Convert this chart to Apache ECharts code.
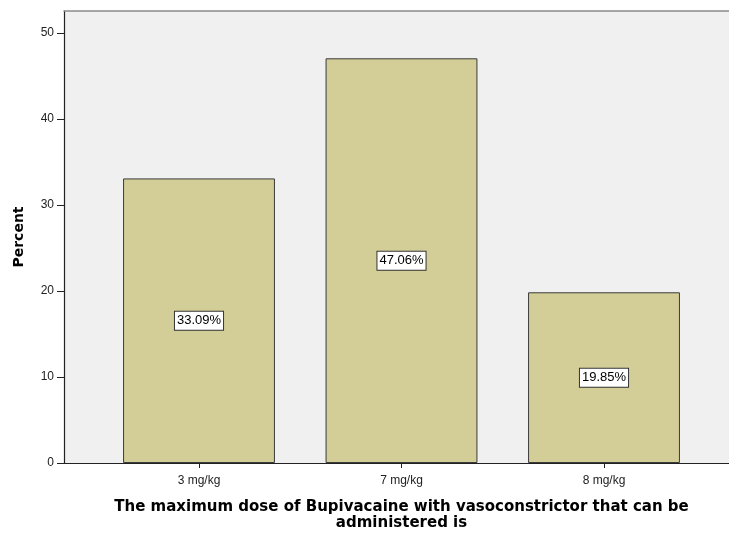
<!DOCTYPE html>
<html>
<head>
<meta charset="utf-8">
<style>
  html, body { margin: 0; padding: 0; background: #ffffff; }
  #chart { width: 729px; height: 534px; }
</style>
<script src="https://cdn.jsdelivr.net/npm/echarts@6/dist/echarts.min.js"></script>
</head>
<body>
<div id="chart"></div>
<script>
// Answer categories and the share of respondents choosing each one
const categories = ['3 mg/kg', '7 mg/kg', '8 mg/kg'];
const percents = [33.09, 47.06, 19.85];
const yTicks = [0, 10, 20, 30, 40, 50];

const yMax = 52.56;
const FONT = 'Arial, "Liberation Sans", sans-serif';
const TITLE_FONT = '"DejaVu Sans", Arial, sans-serif';

const chart = echarts.init(document.getElementById('chart'), null, { renderer: 'canvas' });

chart.setOption({
  animation: false,
  backgroundColor: '#ffffff',
  grid: [
    // frame with the grey plotting background and the percent axis
    { left: 64, right: 0, top: 11, bottom: 71, show: true, backgroundColor: '#F0F0F0', borderWidth: 0, outerBoundsMode: 'none', containLabel: false },
    // bar area
    { left: 97.75, right: 23.75, top: 11, bottom: 71, outerBoundsMode: 'none', containLabel: false }
  ],
  xAxis: [
    {
      gridIndex: 0, type: 'value', min: 0, max: 1, position: 'bottom',
      axisLine: { show: true, lineStyle: { color: '#222', width: 1.2 } },
      axisTick: { show: false }, axisLabel: { show: false }, splitLine: { show: false }
    },
    {
      gridIndex: 0, type: 'value', min: 0, max: 1, position: 'top',
      axisLine: { show: true, lineStyle: { color: '#8a8a8a', width: 1.5 } },
      axisTick: { show: false }, axisLabel: { show: false }, splitLine: { show: false }
    },
    {
      gridIndex: 1, type: 'category', data: categories,
      axisLine: { show: false },
      axisTick: { show: true, alignWithLabel: true, length: 5, lineStyle: { color: '#222' } },
      axisLabel: { color: '#222', fontFamily: FONT, fontSize: 12, margin: 12 },
      name: 'The maximum dose of Bupivacaine with vasoconstrictor that can be\nadministered is',
      nameLocation: 'middle',
      nameGap: 36,
      nameTextStyle: { color: '#000', fontFamily: TITLE_FONT, fontSize: 15, fontWeight: 'bold', lineHeight: 16 }
    }
  ],
  yAxis: [
    {
      gridIndex: 0, type: 'value', min: 0, max: yMax, interval: 10,
      axisLine: { show: true, lineStyle: { color: '#222', width: 1.2 } },
      axisTick: { show: true, length: 7, customValues: yTicks, lineStyle: { color: '#222' } },
      axisLabel: { customValues: yTicks, color: '#222', fontFamily: FONT, fontSize: 12, margin: 10 },
      splitLine: { show: false },
      name: 'Percent', nameLocation: 'middle', nameGap: 38,
      nameTextStyle: { color: '#000', fontFamily: TITLE_FONT, fontSize: 14, fontWeight: 'bold' }
    },
    {
      gridIndex: 1, type: 'value', min: 0, max: yMax, show: false
    }
  ],
  series: [
    {
      type: 'bar',
      xAxisIndex: 2, yAxisIndex: 1,
      data: percents,
      barWidth: '75%',
      itemStyle: { color: '#D3CE97', borderColor: '#3a3a3a', borderWidth: 1 },
      label: {
        show: true,
        position: 'inside',
        formatter: p => p.value.toFixed(2) + '%',
        color: '#000',
        fontFamily: FONT,
        fontSize: 13,
        backgroundColor: '#ffffff',
        borderColor: '#333',
        borderWidth: 1,
        padding: [3, 2, 2, 2]
      }
    }
  ]
});
</script>
</body>
</html>
